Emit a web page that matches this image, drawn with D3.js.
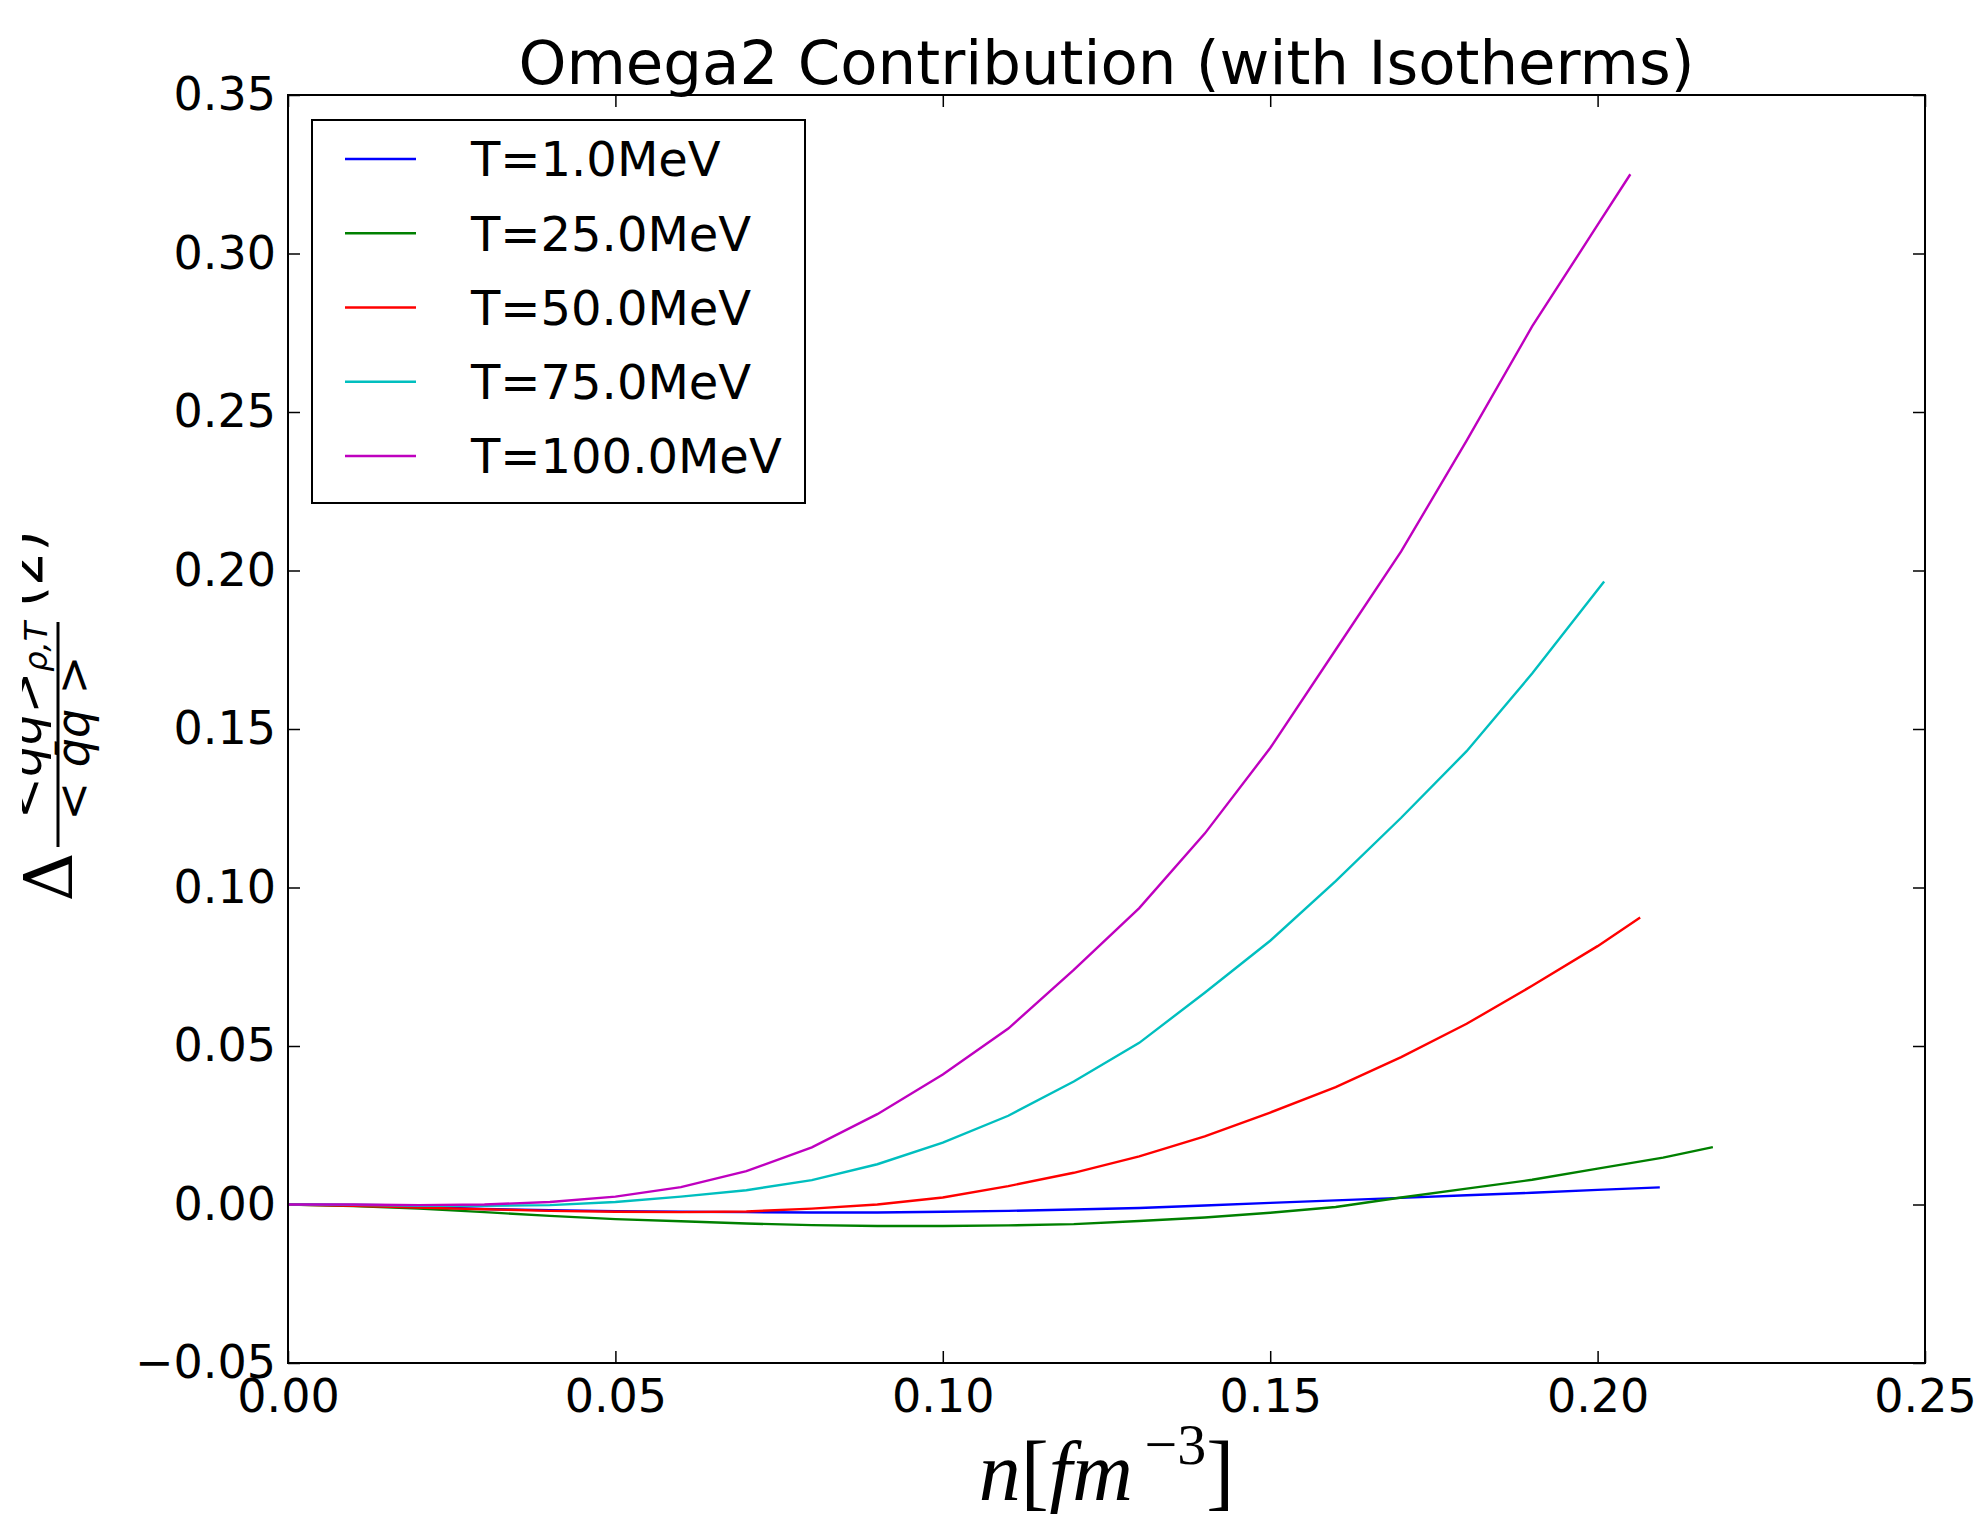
<!DOCTYPE html>
<html>
<head>
<meta charset="utf-8">
<script src="https://cdn.jsdelivr.net/npm/d3@7"></script>
<style>
  body { margin: 0; background: #fff; }
  text { font-family: "DejaVu Sans", sans-serif; }
</style>
</head>
<body>
<svg width="1982" height="1514"></svg>
<script>
// density grids and values for each isotherm
const nT1   = [0, 0.01, 0.02, 0.03, 0.04, 0.05, 0.06, 0.07, 0.08, 0.09, 0.10, 0.11, 0.12, 0.13, 0.14, 0.15, 0.16, 0.17, 0.18, 0.19, 0.20, 0.2095];
const omT1  = [0, -0.0002, -0.0008, -0.0014, -0.0018, -0.0021, -0.0023, -0.0024, -0.0025, -0.0025, -0.0023, -0.0020, -0.0016, -0.0011, -0.0003, 0.0005, 0.0013, 0.0021, 0.0029, 0.0037, 0.0046, 0.0054];

const nT25  = [0, 0.01, 0.02, 0.03, 0.04, 0.05, 0.06, 0.07, 0.08, 0.09, 0.10, 0.11, 0.12, 0.13, 0.14, 0.15, 0.16, 0.17, 0.18, 0.19, 0.20, 0.21, 0.2176];
const omT25 = [0, -0.0005, -0.0013, -0.0024, -0.0036, -0.0046, -0.0053, -0.0060, -0.0065, -0.0068, -0.0068, -0.0066, -0.0062, -0.0052, -0.0041, -0.0026, -0.0008, 0.0022, 0.0050, 0.0078, 0.0113, 0.0148, 0.0181];

const nT50  = [0, 0.01, 0.02, 0.03, 0.04, 0.05, 0.06, 0.07, 0.08, 0.09, 0.10, 0.11, 0.12, 0.13, 0.14, 0.15, 0.16, 0.17, 0.18, 0.19, 0.20, 0.2065];
const omT50 = [0, -0.0004, -0.0010, -0.0015, -0.0020, -0.0023, -0.0024, -0.0022, -0.0013, 0.0000, 0.0022, 0.0058, 0.0100, 0.0152, 0.0215, 0.0290, 0.0370, 0.0465, 0.0570, 0.0690, 0.0815, 0.0905];

const nT75  = [0, 0.01, 0.02, 0.03, 0.04, 0.05, 0.06, 0.07, 0.08, 0.09, 0.10, 0.11, 0.12, 0.13, 0.14, 0.15, 0.16, 0.17, 0.18, 0.19, 0.201];
const omT75 = [0, -0.0001, -0.0004, -0.0004, -0.0002, 0.0008, 0.0025, 0.0045, 0.0077, 0.0127, 0.0195, 0.0280, 0.0388, 0.0510, 0.0668, 0.0832, 0.1020, 0.1220, 0.1430, 0.1675, 0.1965];

const nT100  = [0, 0.01, 0.02, 0.03, 0.04, 0.05, 0.06, 0.07, 0.08, 0.09, 0.10, 0.11, 0.12, 0.13, 0.14, 0.15, 0.16, 0.17, 0.18, 0.19, 0.20, 0.205];
const omT100 = [0, 0.0000, -0.0002, 0.0000, 0.0008, 0.0025, 0.0055, 0.0105, 0.0180, 0.0285, 0.0410, 0.0555, 0.0740, 0.0935, 0.1170, 0.1440, 0.1750, 0.2060, 0.2410, 0.2770, 0.3090, 0.3250];

const labels = ["T=1.0MeV", "T=25.0MeV", "T=50.0MeV", "T=75.0MeV", "T=100.0MeV"];
const colors = ["#0000ff", "#008000", "#ff0000", "#00bfbf", "#bf00bf"];
const xTicks = [0, 0.05, 0.10, 0.15, 0.20, 0.25];
const yTicks = [-0.05, 0, 0.05, 0.10, 0.15, 0.20, 0.25, 0.30, 0.35];

const series = [
  { label: labels[0], n: nT1, v: omT1 },
  { label: labels[1], n: nT25, v: omT25 },
  { label: labels[2], n: nT50, v: omT50 },
  { label: labels[3], n: nT75, v: omT75 },
  { label: labels[4], n: nT100, v: omT100 }
];

const svg = d3.select("svg");
svg.append("rect").attr("width", 1982).attr("height", 1514).attr("fill", "#fff");

const plotL = 288, plotR = 1925, plotT = 95, plotB = 1363;

const x = d3.scaleLinear().domain([0, 0.25]).range([plotL, plotR]);
const y = d3.scaleLinear().domain([-0.05, 0.35]).range([plotB, plotT]);

const fmt = d3.format(".2f");

// axes with inward ticks on all sides
const gx = svg.append("g")
  .attr("transform", "translate(0," + plotB + ")")
  .call(d3.axisBottom(x).tickValues(xTicks).tickFormat(fmt).tickSize(-12).tickPadding(16));
const gxt = svg.append("g")
  .attr("transform", "translate(0," + plotT + ")")
  .call(d3.axisTop(x).tickValues(xTicks).tickFormat("").tickSize(-12));
const gy = svg.append("g")
  .attr("transform", "translate(" + plotL + ",0)")
  .call(d3.axisLeft(y).tickValues(yTicks).tickFormat(fmt).tickSize(-12).tickPadding(12));
const gyr = svg.append("g")
  .attr("transform", "translate(" + plotR + ",0)")
  .call(d3.axisRight(y).tickValues(yTicks).tickFormat("").tickSize(-12));

[gx, gxt, gy, gyr].forEach(g => {
  g.select(".domain").remove();
  g.selectAll(".tick line").attr("stroke", "#000").attr("stroke-width", 1.5);
  g.selectAll(".tick text").attr("fill", "#000").style("font-size", "46px")
    .style("font-family", "'DejaVu Sans', sans-serif");
});

// lines
const line = d3.line()
  .x(d => x(d[0]))
  .y(d => y(d[1]));

const plot = svg.append("g");
series.forEach((s, i) => {
  plot.append("path")
    .datum(s.n.map((n, j) => [n, s.v[j]]))
    .attr("d", line)
    .attr("fill", "none")
    .attr("stroke", colors[i])
    .attr("stroke-width", 2.4);
});

// frame
svg.append("rect")
  .attr("x", plotL).attr("y", plotT)
  .attr("width", plotR - plotL).attr("height", plotB - plotT)
  .attr("fill", "none").attr("stroke", "#000").attr("stroke-width", 2);

// legend
const legend = svg.append("g");
legend.append("rect")
  .attr("x", 312).attr("y", 120).attr("width", 493).attr("height", 383)
  .attr("fill", "#fff").attr("stroke", "#000").attr("stroke-width", 2);
const rowY = d3.scaleLinear().domain([0, 4]).range([159, 456]);
series.forEach((s, i) => {
  legend.append("line")
    .attr("x1", 345).attr("x2", 416)
    .attr("y1", rowY(i)).attr("y2", rowY(i))
    .attr("stroke", colors[i]).attr("stroke-width", 2.4);
  legend.append("text")
    .attr("x", 471).attr("y", rowY(i))
    .attr("dy", "0.36em")
    .style("font-size", "48px")
    .text(s.label);
});

// title
svg.append("text")
  .attr("x", (plotL + plotR) / 2).attr("y", 84)
  .attr("text-anchor", "middle")
  .style("font-size", "61px")
  .text("Omega2 Contribution (with Isotherms)");

// x label
const xl = svg.append("text")
  .attr("x", (plotL + plotR) / 2).attr("y", 1500)
  .attr("text-anchor", "middle")
  .style("font-family", "'Liberation Serif', serif")
  .style("font-size", "84px");
xl.append("tspan").style("font-style", "italic").text("n");
xl.append("tspan").text("[");
xl.append("tspan").style("font-style", "italic").text("fm");
xl.append("tspan").attr("dy", -36).style("font-size", "58px").text("\u2009\u22123");
xl.append("tspan").attr("dy", 36).text("]");

// y label (rotated, numerator clipped at left edge like the original)
svg.append("clipPath").attr("id", "ylclip")
  .append("rect").attr("x", 22).attr("y", 0).attr("width", 200).attr("height", 1514);

const ylOuter = svg.append("g").attr("clip-path", "url(#ylclip)");
const yl = ylOuter.append("g")
  .attr("transform", "translate(58,735) rotate(-90)")
  .style("font-family", "'Liberation Serif', serif");

yl.append("text")
  .attr("x", -142).attr("y", 14)
  .attr("text-anchor", "middle")
  .style("font-family", "'DejaVu Serif', serif")
  .style("font-size", "68px")
  .text("\u0394");

yl.append("line")
  .attr("x1", -112).attr("x2", 113).attr("y1", 0).attr("y2", 0)
  .attr("stroke", "#000").attr("stroke-width", 3);

const den = yl.append("text")
  .attr("x", -3).attr("y", 31)
  .attr("text-anchor", "middle")
  .style("font-size", "46px");
den.append("tspan").text("< ");
den.append("tspan").style("font-style", "italic").text("q\u0304q");
den.append("tspan").text(" >");

const num = yl.append("text")
  .attr("x", -84).attr("y", -17)
  .style("font-size", "50px");
num.append("tspan").text("<");
num.append("tspan").style("font-style", "italic").text("q\u0304q");
num.append("tspan").text(">");
num.append("tspan").attr("dy", 6).style("font-size", "32px").style("font-style", "italic").text("\u03c1,T");

yl.append("text")
  .attr("x", 128).attr("y", -16)
  .style("font-size", "54px")
  .text("(2)");
</script>
</body>
</html>
